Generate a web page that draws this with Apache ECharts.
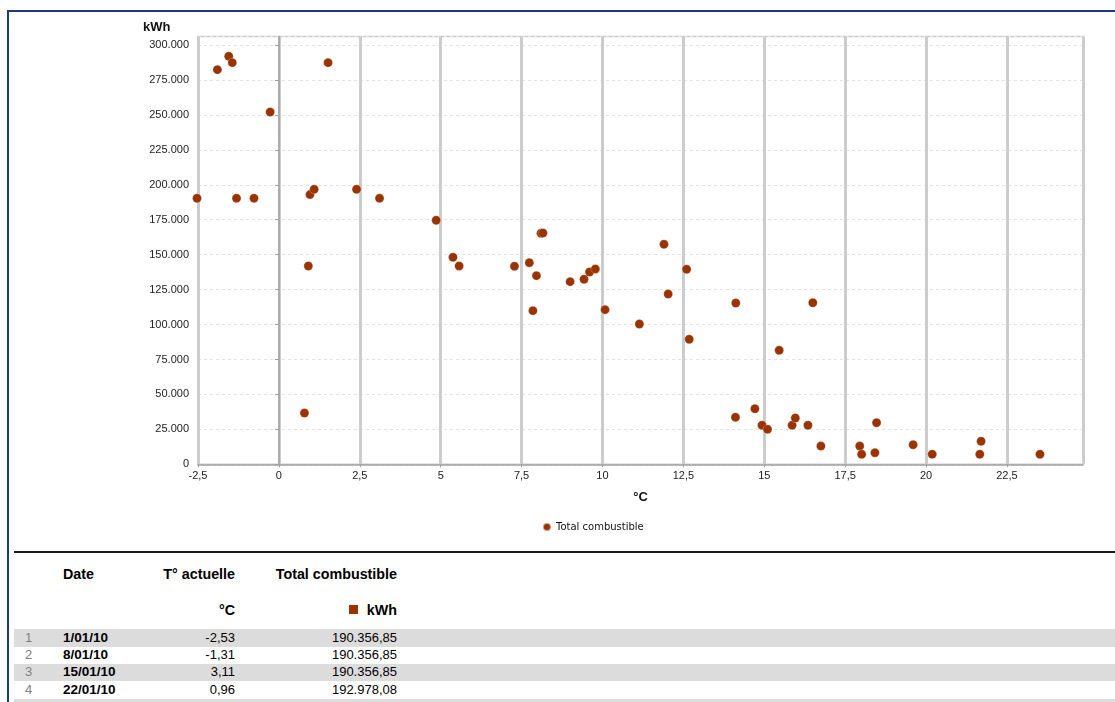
<!DOCTYPE html>
<html><head><meta charset="utf-8">
<script src="https://cdn.jsdelivr.net/npm/echarts@6/dist/echarts.min.js"></script>
<style>
html,body{margin:0;padding:0;background:#fff}
body{width:1115px;height:702px;overflow:hidden;position:relative;font-family:"Liberation Sans",Arial,sans-serif}
#frame{position:absolute;left:7px;top:10px;width:1130px;height:720px;border-left:2px solid #1d3b78;border-top:2px solid #1d3b78;box-sizing:border-box}
#chart{position:absolute;left:0;top:0;width:1115px;height:545px}
#rule{position:absolute;left:14px;top:551px;width:1101px;height:2px;background:#1a1a1a}
.t{position:absolute;font-size:13px;color:#000;white-space:nowrap;line-height:14px}
.b{font-weight:bold;font-size:13.5px}
.h{font-weight:bold;font-size:14.3px}
.row{position:absolute;left:14px;width:1101px;height:17.33px}
.g{background:#dcdcdc}
.sq{position:absolute;left:349px;top:605px;width:9px;height:9px;background:#993300}
</style></head>
<body>
<div id="frame"></div>
<div id="chart"></div>
<div id="rule"></div>
<div id="table"></div>
<script>
// Scatter data: temperature (°C) and Total combustible (kWh)
const temps = [-2.53, -1.31, 3.11, 0.96, -1.90, -1.55, -1.44, -0.77, -0.27, 1.52, 1.09, 0.91, 0.79, 2.40,
  4.86, 5.38, 5.57, 7.28, 7.74, 7.85, 7.96, 8.10, 8.16, 9.00, 9.43, 9.60, 9.78, 10.08, 11.14, 11.90,
  12.03, 12.60, 12.68, 14.12, 14.11, 14.71, 14.93, 15.10, 15.46, 15.86, 15.96, 16.35, 16.50, 16.75,
  17.95, 18.01, 18.42, 18.47, 19.60, 20.19, 21.66, 21.70, 23.52];
const kwh = [190356.85, 190356.85, 190356.85, 192978.08, 282340, 291920, 287340, 190357, 252070, 287340, 196760, 141880, 36700, 196760,
  174580, 148110, 141880, 141670, 144240, 109900, 134940, 165280, 165490, 130650, 132370, 137590, 139740, 110620, 100380, 157410,
  121850, 139520, 89440, 115410, 33630, 39780, 27900, 25040, 81570, 27900, 33130, 27900, 115620, 13090,
  13090, 7160, 8300, 29760, 14020, 7160, 7160, 16460, 7160];

// Table rows
const tableIdx = ['1', '2', '3', '4'];
const tableDates = ['1/01/10', '8/01/10', '15/01/10', '22/01/10'];
const tableTemps = ['-2,53', '-1,31', '3,11', '0,96'];
const tableTotals = ['190.356,85', '190.356,85', '190.356,85', '192.978,08'];
const tableHeaders = ['Date', 'T° actuelle', 'Total combustible'];
const tableUnits = ['°C', 'kWh'];

const seriesName = 'Total combustible';
const yUnit = 'kWh';
const color = '#993300';

const chart = echarts.init(document.getElementById('chart'), null, {renderer: 'canvas'});
const pts = temps.map((t, i) => [t, kwh[i]]);
chart.setOption({
  animation: false,
  grid: {left: 198, right: 32, top: 36.6, bottom: 80.7, show: true, borderColor: '#cccccc', borderWidth: 1.5},
  graphic: [{type: 'text', left: 143, top: 21, style: {text: yUnit, fontWeight: 'bold', fontSize: 13, fill: '#111', fontFamily: 'Liberation Sans'}}],
  legend: {
    data: [{name: seriesName, icon: 'circle'}], left: 537, top: 517, itemWidth: 8, itemHeight: 8, itemGap: 5,
    textStyle: {fontFamily: 'DejaVu Sans', fontSize: 10, color: '#111'}
  },
  xAxis: {
    type: 'value', min: -2.5, max: 24.85, interval: 2.5,
    name: '°C', nameLocation: 'middle', nameGap: 27,
    nameTextStyle: {fontWeight: 'bold', fontSize: 13, color: '#111', fontFamily: 'Liberation Sans'},
    axisLine: {show: true, lineStyle: {color: '#a0a0a0', width: 1.5}},
    axisTick: {show: true, length: 3, lineStyle: {color: '#a0a0a0'}},
    axisLabel: {showMaxLabel: false, color: '#222', fontSize: 11, fontFamily: 'Liberation Sans', margin: 6,
      formatter: v => String(v).replace('.', ',')},
    splitLine: {show: true, lineStyle: {color: '#cccccc', width: 3}}
  },
  yAxis: {
    type: 'value', min: 0, max: 306000, interval: 25000,
    axisLine: {show: true, lineStyle: {color: '#a0a0a0', width: 1.5}},
    axisTick: {show: true, length: 4, lineStyle: {color: '#a0a0a0'}},
    axisLabel: {showMaxLabel: false, color: '#222', fontSize: 11, fontFamily: 'Liberation Sans', margin: 9,
      formatter: v => v === 0 ? '0' : (v / 1000).toFixed(0) + '.000'},
    splitLine: {show: true, lineStyle: {color: '#e3e3e3', type: [3, 3], width: 1}}
  },
  series: [{
    name: seriesName, type: 'scatter', data: pts, symbol: 'circle', symbolSize: 9, clip: false,
    itemStyle: {color: color, opacity: 1, borderColor: 'rgba(255,255,255,0.5)', borderWidth: 0.5}
  }]
});

// Table
const tb = document.getElementById('table');
function addText(txt, x, y, cls, right) {
  const d = document.createElement('div');
  d.className = 't ' + (cls || '');
  d.textContent = txt;
  d.style.top = (y - 7) + 'px';
  if (right) { d.style.right = (1115 - x) + 'px'; d.style.textAlign = 'right'; }
  else d.style.left = x + 'px';
  tb.appendChild(d);
  return d;
}
addText(tableHeaders[0], 63, 574, 'h');
addText(tableHeaders[1], 235, 574, 'h', true);
addText(tableHeaders[2], 397, 574, 'h', true);
addText(tableUnits[0], 235, 610, 'h', true);
const sq = document.createElement('div'); sq.className = 'sq'; tb.appendChild(sq);
addText(tableUnits[1], 397, 610, 'h', true);
const rowTop = 629.3, rowH = 17.33;
for (let i = 0; i < 5; i++) {
  const r = document.createElement('div');
  r.className = 'row' + (i % 2 === 0 ? ' g' : '');
  r.style.top = (rowTop + i * rowH) + 'px';
  tb.appendChild(r);
}
tableIdx.forEach((n, i) => {
  const cy = rowTop + i * rowH + 8.5;
  const a = addText(n, 25, cy); a.style.color = '#808080';
  addText(tableDates[i], 63, cy, 'b');
  addText(tableTemps[i], 235, cy, '', true);
  addText(tableTotals[i], 397, cy, '', true);
});
</script>
</body></html>
